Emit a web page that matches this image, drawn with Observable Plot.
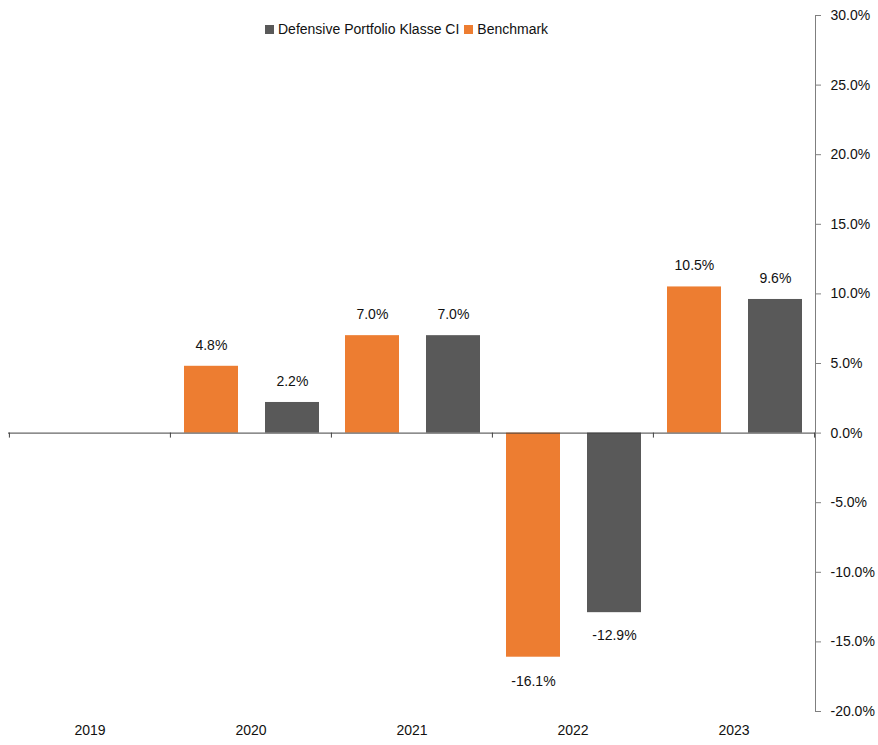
<!DOCTYPE html>
<html>
<head>
<meta charset="utf-8">
<script src="https://cdn.jsdelivr.net/npm/d3@7"></script>
<script src="https://cdn.jsdelivr.net/npm/@observablehq/plot@0.6"></script>
<style>
  body { margin: 0; background: #fff; }
  #wrap { position: relative; width: 878px; height: 745px; font-family: "Liberation Sans", Arial, sans-serif; }
  #legend { position: absolute; top: 21px; left: 265px; display: flex; align-items: center; font-size: 14px; color: #111; white-space: nowrap; }
  #legend .sw { width: 9px; height: 9px; display: inline-block; margin-right: 4px; }
  #legend .item { display: flex; align-items: center; margin-right: 5px; }
</style>
</head>
<body>
<div id="wrap">
  <div id="chart"></div>
  <div id="legend"></div>
</div>
<script>
const years = ["2019", "2020", "2021", "2022", "2023"];
const benchmark = [null, 4.8, 7.0, -16.1, 10.5];
const portfolio = [null, 2.2, 7.0, -12.9, 9.6];
const seriesNames = ["Defensive Portfolio Klasse CI", "Benchmark"];
const seriesColors = ["#595959", "#ED7D31"];
const yTicks = [-20, -15, -10, -5, 0, 5, 10, 15, 20, 25, 30];

const bench = years.map((y, i) => ({year: y, value: benchmark[i]})).filter(d => d.value != null);
const port = years.map((y, i) => ({year: y, value: portfolio[i]})).filter(d => d.value != null);
const fmt = v => v.toFixed(1) + "%";

const chart = Plot.plot({
  width: 878,
  height: 745,
  marginLeft: 8,
  marginRight: 63,
  marginTop: 15,
  marginBottom: 34,
  style: {fontFamily: "Liberation Sans, Arial, sans-serif", fontSize: "14px", color: "#111", background: "#fff"},
  x: {domain: years, padding: 0, label: null},
  y: {domain: [-20, 30], label: null},
  marks: [
    Plot.frame({anchor: "right", stroke: "#7f7f7f"}),
    Plot.axisY({anchor: "right", ticks: yTicks, tickFormat: v => v.toFixed(1) + "%", tickSize: 5, tickPadding: 10, textAnchor: "start", stroke: "#7f7f7f", fill: "#111"}),
    Plot.axisX({anchor: "bottom", tickSize: 0, tickPadding: 14, fill: "#111"}),
    Plot.barY(bench, {x: "year", y: "value", fill: seriesColors[1], insetLeft: 14, insetRight: 93}),
    Plot.barY(port, {x: "year", y: "value", fill: seriesColors[0], insetLeft: 95, insetRight: 12}),
    Plot.ruleY([0], {stroke: "#404040", strokeWidth: 1}),
    Plot.ruleX(years, {x: d => d, y1: 0, y2: 0, insetBottom: -5, dx: -80.6, stroke: "#404040"}),
    Plot.ruleX([years[years.length - 1]], {x: d => d, y1: 0, y2: 0, insetBottom: -5, dx: 80.6, stroke: "#404040"}),
    Plot.text(bench, {x: "year", y: "value", text: d => fmt(d.value), dx: -39.6, lineAnchor: "middle", fill: "#111", filter: d => d.value >= 0, dy: -21}),
    Plot.text(bench, {x: "year", y: "value", text: d => fmt(d.value), dx: -39.6, lineAnchor: "middle", fill: "#111", filter: d => d.value < 0, dy: 24}),
    Plot.text(port, {x: "year", y: "value", text: d => fmt(d.value), dx: 41.4, lineAnchor: "middle", fill: "#111", filter: d => d.value >= 0, dy: -21}),
    Plot.text(port, {x: "year", y: "value", text: d => fmt(d.value), dx: 41.4, lineAnchor: "middle", fill: "#111", filter: d => d.value < 0, dy: 23})
  ]
});
document.getElementById("chart").appendChild(chart);

const legend = document.getElementById("legend");
seriesNames.forEach((name, i) => {
  const item = document.createElement("span");
  item.className = "item";
  const sw = document.createElement("span");
  sw.className = "sw";
  sw.style.background = seriesColors[i];
  item.appendChild(sw);
  item.appendChild(document.createTextNode(name));
  legend.appendChild(item);
});
</script>
</body>
</html>
